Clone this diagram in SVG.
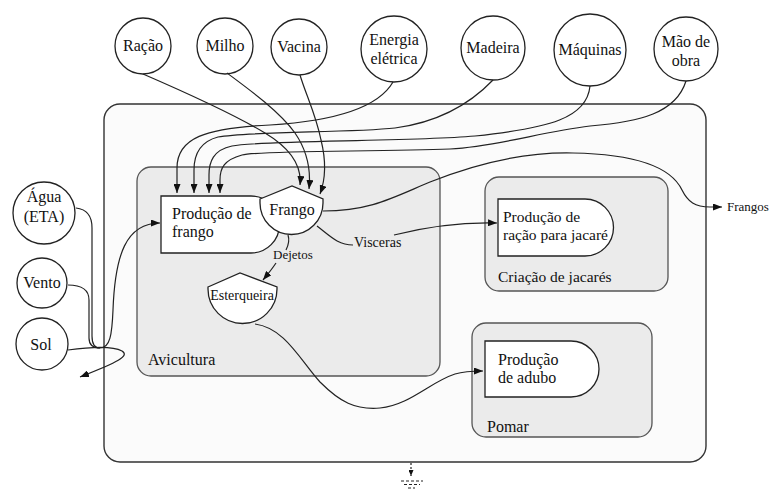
<svg xmlns="http://www.w3.org/2000/svg" width="771" height="489" viewBox="0 0 771 489" style="font-family:'Liberation Serif','Tinos','Noto Serif','DejaVu Serif',Times,serif">
<defs>
<marker id="ah" markerUnits="userSpaceOnUse" markerWidth="9" markerHeight="7" refX="9" refY="3.5" orient="auto"><path d="M0,0 L9,3.5 L0,7 Z" fill="#111"/></marker>
<marker id="ahs" markerUnits="userSpaceOnUse" markerWidth="6" markerHeight="5" refX="6" refY="2.5" orient="auto"><path d="M0,0 L6,2.5 L0,5 Z" fill="#111"/></marker>
</defs>
<style>
text{fill:#111;font-family:'Liberation Serif','Tinos','Noto Serif','DejaVu Serif',Times,serif;}
.t16{font-size:16px;}
.t15{font-size:15.5px;}
.t14{font-size:14px;}
.t13{font-size:13px;}
.src circle{fill:#fff;stroke:#222;stroke-width:1.3;}
.box{fill:#ebebeb;stroke:#555;stroke-width:1.3;}
.node{fill:#fff;stroke:#222;stroke-width:1.3;}
.c path{fill:none;stroke:#222;stroke-width:1.2;}
.mid{text-anchor:middle;}
</style>
<rect width="771" height="489" fill="#fff"/>
<rect id="sistema" x="104" y="104" width="602" height="358" rx="16" fill="#fbfbfb" stroke="#333" stroke-width="1.4"/>
<g id="avicultura"><rect class="box" x="137" y="167" width="303" height="209" rx="14"/><text class="t16" x="148" y="365">Avicultura</text></g>
<g id="criacao-jacares"><rect class="box" x="485" y="177" width="183" height="114" rx="14"/><text class="t15" x="498" y="282">Criação de jacarés</text></g>
<g id="pomar"><rect class="box" x="472" y="323" width="180" height="114" rx="14"/><text class="t16" x="487" y="432">Pomar</text></g>

<g id="racao" class="src"><circle cx="143" cy="46" r="28"/><text class="t16 mid" x="143" y="51">Ração</text></g>
<g id="milho" class="src"><circle cx="225" cy="46" r="28"/><text class="t16 mid" x="225" y="51">Milho</text></g>
<g id="vacina" class="src"><circle cx="299" cy="47" r="28"/><text class="t16 mid" x="299" y="52">Vacina</text></g>
<g id="energia" class="src"><circle cx="394" cy="49" r="33"/><text class="t16 mid" x="394" y="45">Energia</text><text class="t16 mid" x="394" y="64">elétrica</text></g>
<g id="madeira" class="src"><circle cx="493" cy="48" r="32"/><text class="t16 mid" x="493" y="53">Madeira</text></g>
<g id="maquinas" class="src"><circle cx="590" cy="50" r="36"/><text class="t16 mid" x="590" y="55">Máquinas</text></g>
<g id="mao-de-obra" class="src"><circle cx="686" cy="49" r="32"/><text class="t16 mid" x="686" y="47">Mão de</text><text class="t16 mid" x="686" y="66">obra</text></g>
<g id="agua" class="src"><circle cx="44" cy="213" r="31"/><text class="t16 mid" x="44" y="202">Água</text><text class="t16 mid" x="44" y="222">(ETA)</text></g>
<g id="vento" class="src"><circle cx="42" cy="283" r="25"/><text class="t16 mid" x="42" y="288">Vento</text></g>
<g id="sol" class="src"><circle cx="42" cy="344" r="26"/><text class="t16 mid" x="41" y="350">Sol</text></g>

<g id="connectors" class="c">
<path d="M143,74 C180,90 230,112 265,133 C290,148 302,165 300,185" marker-end="url(#ah)"/>
<path d="M227,73 C250,90 280,112 295,133 C308,152 311,170 309,189" marker-end="url(#ah)"/>
<path d="M300,75 C306,95 316,115 321,140 C326,160 326,178 320,194" marker-end="url(#ah)"/>
<path d="M393,82 C378,108 335,121 270,125 C205,128 177,138 177,168 L177,193" marker-end="url(#ah)"/>
<path d="M493,80 C470,104 440,122 395,128 C350,133 250,131 218,137 C199,142 194,155 194,170 L194,193" marker-end="url(#ah)"/>
<path d="M590,86 C587,118 550,128 475,136 C405,142 262,140 232,146 C213,150 209,162 209,175 L209,193" marker-end="url(#ah)"/>
<path d="M686,81 C676,113 640,122 590,126 C540,132 500,146 450,149 C380,152 262,150 242,155 C224,160 220,168 220,180 L220,193" marker-end="url(#ah)"/>
<path d="M76,208 C86,209 92,215 92,228 L92,336 C92,344 95,348 100,348"/>
<path d="M68,285 C82,285 89,290 89,300 L89,338 C89,345 93,348 100,348"/>
<path d="M68,350 C90,347 113,346 122,351 C130,356 118,362 80,377" marker-end="url(#ah)"/>
<path d="M100,348 C110,348 112,335 113,310 C115,255 126,223 160,223" marker-end="url(#ah)"/>
<path d="M323,211 C370,211 392,198 430,182 C480,162 530,152 573,153 C630,154 670,165 682,190 C688,202 695,207 710,207 L722,207" marker-end="url(#ah)"/>
<path d="M317,226 C330,236 338,245 353,245"/>
<path d="M394,235 C430,226 460,222 497,223" marker-end="url(#ah)"/>
<path d="M288,235 C290,241 288,246 286,250"/>
<path d="M276,263 C272,269 268,274 263,280" marker-end="url(#ah)"/>
<path d="M255,324 C285,328 300,360 320,382 C340,402 355,410 380,408 C410,405 430,382 455,374 C465,371 473,371 483,371" marker-end="url(#ah)"/>
<path d="M411,463 L411,476" stroke-dasharray="2,2" marker-end="url(#ahs)"/>
<path d="M401,481 L423,481 M404,484.5 L420,484.5 M408,488 L415,488" stroke-dasharray="3,2" stroke-width="1"/>
</g>

<g id="producao-frango"><path class="node" d="M161,196 L251,196 A28.5,28.5 0 0 1 251,253 L161,253 Z"/><text class="t16" x="172" y="219">Produção de</text><text class="t16" x="172" y="237">frango</text></g>
<g id="frango"><path class="node" d="M260,199 L292,186 L323,199 L323,203 A31.5,31.5 0 0 1 260,203 Z"/><text class="t16 mid" x="292" y="215">Frango</text></g>
<g id="esterqueira"><path class="node" d="M208,287 L240,273 L277,287 L277,289 A34.5,34.5 0 0 1 208,289 Z"/><text class="t14 mid" x="242" y="300">Esterqueira</text></g>
<g id="racao-jacare"><path class="node" d="M498,199 L585,199 A28.5,28.5 0 0 1 585,256 L498,256 Z"/><text class="t15" x="503" y="222">Produção de</text><text class="t15" x="503" y="240">ração para jacaré</text></g>
<g id="adubo"><path class="node" d="M485,341 L571,341 A28,28 0 0 1 571,397 L485,397 Z"/><text class="t16" x="498" y="365">Produção</text><text class="t16" x="498" y="383">de adubo</text></g>
<g id="labels"><text class="t13" x="273" y="259">Dejetos</text><text class="t14" x="354" y="247">Visceras</text><text class="t13" x="727" y="211">Frangos</text></g>
</svg>
